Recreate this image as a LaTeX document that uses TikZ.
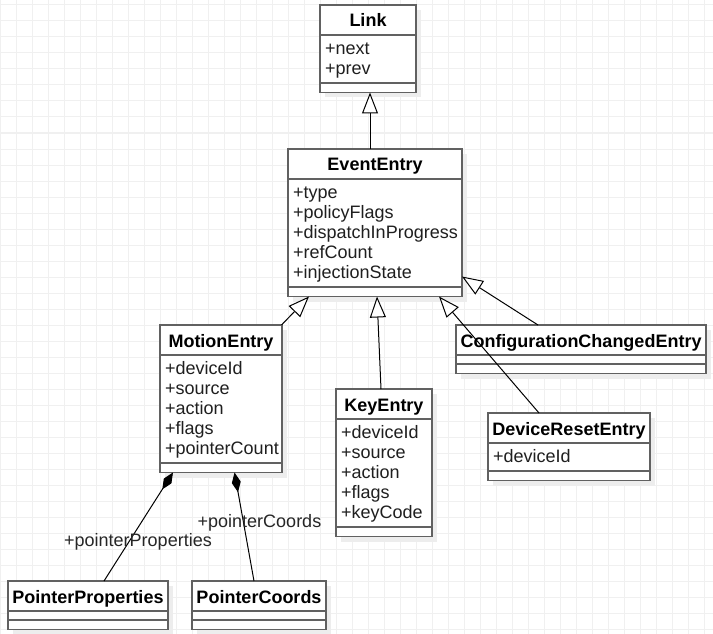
\documentclass[tikz,border=0pt]{standalone}
\usepackage{fontspec}
\setmainfont{Liberation Sans}
\usetikzlibrary{arrows.meta,calc,shadows}
\tikzset{
  gridline/.style={draw=black!6, line width=1pt},
  umlbox/.style={rectangle, draw=black!62, line width=1.6pt, fill=white,
    inner sep=0pt, outer sep=0pt,
    drop shadow={shadow xshift=5pt, shadow yshift=-5pt, fill=black!7, opacity=1}},
  umlsep/.style={draw=black!62, line width=1.6pt},
  umltitle/.style={anchor=base, inner sep=0pt, font=\fontsize{18}{20}\selectfont\bfseries},
  umlattr/.style={anchor=base west, inner sep=0pt, text=black!88, font=\fontsize{18}{20}\selectfont},
  umllabel/.style={anchor=base west, inner sep=0pt, text=black!85, font=\fontsize{18}{20}\selectfont},
  conn/.style={draw=black, line width=1pt},
  gen/.style={conn, -{Triangle[length=21pt, width=16pt, fill=white]}},
  comp/.style={conn, {Diamond[length=20pt, width=9pt]}-},
}
% #1 name, #2 x, #3 y, #4 width, #5 number of attributes, #6 title, #7 attributes
\newcommand\umlclass[7]{%
  \pgfmathsetmacro\attrh{(#5==0) ? 9 : 20*#5+8}%
  \pgfmathsetmacro\boxh{30+\attrh+9.5}%
  \node[umlbox, minimum width=#4pt, minimum height=\boxh pt, anchor=north west] (#1) at (#2,#3) {};
  \node[umltitle] (#1-title) at ($(#1.north)+(0,22)$) {#6};
  \draw[umlsep] ($(#1.north west)+(0,30)$) -- ($(#1.north east)+(0,30)$);
  \draw[umlsep] ($(#1.north west)+(0,30+\attrh)$) -- ($(#1.north east)+(0,30+\attrh)$);
  \ifnum#5>0
    \foreach \a [count=\i] in {#7} {\node[umlattr] (#1-a\i) at ($(#1.north west)+(5,30+20*\i-0.5)$) {\a};}
  \fi
}
\begin{document}
\begin{tikzpicture}[x=1pt, y=-1pt]
  \fill[white] (0,0) rectangle (713,634);
  \useasboundingbox (0,0) rectangle (713,634);
  \foreach \x in {0,16,...,712} \draw[gridline] (\x,0) -- (\x,634);
  \foreach \y in {5,21,...,633} \draw[gridline] (0,\y) -- (713,\y);

  \umlclass{link}{320}{5}{96}{2}{Link}{+next,+prev}
  \umlclass{event}{288}{149}{174}{5}{EventEntry}{+type,+policyFlags,+dispatchInProgress,+refCount,+injectionState}
  \umlclass{motion}{160}{325}{122}{5}{MotionEntry}{+deviceId,+source,+action,+flags,+pointerCount}
  \umlclass{key}{336}{389}{96}{5}{KeyEntry}{+deviceId,+source,+action,+flags,+keyCode}
  \umlclass{config}{456}{325}{250}{0}{ConfigurationChangedEntry}{}
  \umlclass{reset}{488}{413}{162}{1}{DeviceResetEntry}{+deviceId}
  \umlclass{pprops}{8}{581}{160}{0}{PointerProperties}{}
  \umlclass{pcoords}{192}{581}{134}{0}{PointerCoords}{}

  \draw[gen] ([xshift=-5pt]event.north) -- ([xshift=2pt]link.south);
  \draw[gen] ([xshift=-0.5pt]motion.north east) -- ([xshift=21pt]event.south west);
  \draw[gen] ([xshift=45pt]key.north west) -- ([xshift=89pt]event.south west);
  \draw[gen] ([xshift=82pt]config.north west) -- ([yshift=20pt]event.south east);
  \draw[gen] ([xshift=51pt]reset.north west) -- ([xshift=151pt]event.south west);

  \draw[comp] ([xshift=13pt]motion.south west) -- ([xshift=96pt]pprops.north west);
  \draw[comp] ([xshift=74.5pt]motion.south west) -- ([xshift=62pt]pcoords.north west);

  \node[umllabel] (lblprops) at (64,546) {+pointerProperties};
  \node[umllabel] (lblcoords) at (197.5,527.5) {+pointerCoords};
\end{tikzpicture}
\end{document}
